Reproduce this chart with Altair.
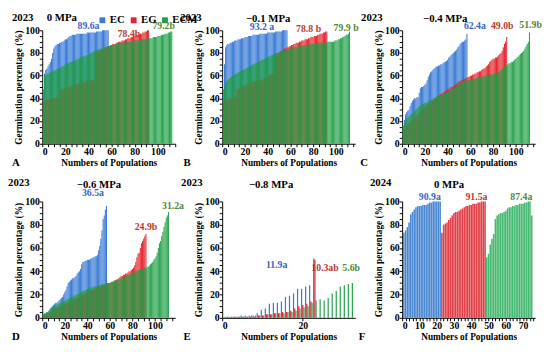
import altair as alt
import pandas as pd

FONT = "Liberation Serif"
GROUPS = ["EC", "EG", "ECM"]

# ---------------- Panel A: 2023, 0 MPa ----------------
A_EC = [48, 62, 65, 66, 68, 70, 72, 75, 80, 84,
        86, 87, 88, 88, 89, 89, 90, 90, 91, 92,
        92, 93, 94, 95, 95, 96, 96, 96, 96, 97,
        97, 97, 97, 97, 97, 97, 97, 97, 98, 98,
        98, 98, 98, 98, 98, 98, 99, 99, 99, 99,
        99, 100, 100, 100, 100, 100, 100]
A_EG = [37, 38, 38, 39, 39, 39, 40, 40, 40, 40, 40, 41, 41, 41, 41,
        47, 48, 48, 49, 49, 50, 50, 50, 51, 51, 51, 52, 52, 52, 52,
        53, 53, 53, 54, 54, 54, 54, 55, 55, 55, 55, 56, 56, 56, 56,
        80, 81, 81, 82, 82, 83, 83, 84, 84, 85,
        85, 86, 86, 87, 87, 88, 88, 88, 89, 89, 90, 90, 90, 91, 91,
        91, 92, 92, 93, 93, 93, 94, 94, 95, 95, 95, 96, 96, 96, 97,
        97, 98, 98, 99, 99, 100, 100]
A_ECM = [36, 60, 61, 61, 62, 62, 63, 63, 64, 64,
         65, 65, 66, 66, 67, 67, 68, 68, 69, 70,
         70, 71, 71, 72, 72, 73, 73, 73, 74, 74,
         75, 75, 76, 76, 77, 77, 77, 78, 78, 78,
         79, 80, 80, 81, 81, 82, 82, 83, 83, 84,
         84, 84, 85, 85, 85, 86, 86, 86, 87, 87,
         87, 87, 88, 88, 88, 88, 89, 89, 89, 89,
         89, 89, 90, 90, 90, 90, 90, 90, 91, 91,
         91, 91, 91, 91, 91, 92, 92, 92, 92, 92,
         92, 93, 93, 93, 93, 94, 94, 94, 94, 95,
         95, 95, 96, 96, 96, 97, 97, 97, 98, 98, 99, 99]

# ---------------- Panel B: 2023, -0.1 MPa ----------------
B_EC = [48, 70, 85, 87, 88, 88, 89, 89, 90, 90,
        91, 91, 91, 92, 92, 92, 93, 93, 93, 94,
        94, 94, 95, 95, 95, 95, 96, 96, 96, 96,
        96, 96, 97, 97, 97, 97, 97, 97, 97, 98,
        98, 98, 98, 98, 98, 98, 99, 99, 99, 99,
        99, 99, 100, 100, 100, 100, 100]
B_EG = [37, 38, 38, 39, 39, 40, 40, 40, 41, 41, 41, 41,
        48, 48, 49, 49, 50, 50, 51, 51, 52, 52, 53, 53, 54,
        54, 54, 55, 55, 55, 55, 56, 56, 56, 56, 57, 57, 57, 58, 58,
        60, 61, 61, 62, 62, 63, 63,
        79, 80, 80, 81, 82, 82, 83, 84, 84, 85, 85, 86, 86,
        87, 87, 88, 88, 89, 89, 89, 90, 90, 91, 91, 91, 92, 92, 92, 93, 93, 94, 94, 94,
        95, 95, 95, 96, 96, 97, 97, 97, 98, 98, 99, 99]
B_ECM = [38, 50, 53, 55, 56, 57, 58, 59, 60, 61,
         61, 62, 62, 63, 63, 64, 64, 65, 65, 66,
         66, 67, 67, 68, 68, 69, 70, 70, 71, 71,
         72, 72, 73, 73, 74, 74, 75, 75, 76, 76,
         77, 77, 78, 78, 79, 79, 80, 80, 80, 81,
         81, 81, 82, 82, 82, 83, 83, 83, 84, 84,
         84, 84, 85, 85, 85, 85, 86, 86, 86, 86,
         86, 87, 87, 87, 87, 87, 88, 88, 88, 88,
         88, 88, 88, 89, 89, 89, 89, 89, 89, 89,
         89, 89, 90, 90, 90, 90, 90, 90, 91, 91,
         91, 92, 92, 93, 93, 94, 94, 95, 96, 96, 97, 99]

# ---------------- Panel C: 2023, -0.4 MPa ----------------
C_EC = [16, 21, 26, 28, 29, 30, 33, 36, 38, 39,
        40, 40, 41, 41, 45, 49, 50, 50, 51, 52,
        53, 56, 59, 61, 63, 64, 65, 66, 67, 68,
        68, 69, 69, 70, 70, 71, 72, 72, 73, 74,
        76, 77, 78, 79, 80, 81, 82, 83, 85, 86,
        88, 89, 90, 90, 91, 92, 97]
C_EG = [10, 12, 14, 16, 17, 18, 19, 20, 21, 22,
        23, 24, 25, 26, 27, 28, 29, 30, 31, 32,
        33, 34, 35, 36, 36, 37, 38, 39, 40, 41,
        42, 42, 43, 44, 44, 45, 46, 46, 47, 48,
        48, 49, 50, 50, 51, 52, 52, 53, 54, 55,
        55, 56, 56, 57, 57, 58, 58, 59, 59, 60,
        60, 61, 61, 62, 62, 63, 63, 64, 64, 65,
        66, 66, 67, 68, 69, 70, 72, 73, 74, 75,
        75, 76, 76, 77, 78, 79, 80, 82, 85, 88,
        90, 94]
C_ECM = [15, 18, 20, 22, 23, 24, 25, 26, 27, 28,
         29, 30, 31, 32, 33, 33, 34, 35, 35, 36,
         36, 37, 37, 38, 38, 39, 39, 40, 40, 41,
         41, 42, 42, 43, 43, 44, 44, 45, 45, 46,
         46, 47, 47, 48, 48, 49, 50, 51, 52, 53,
         53, 54, 54, 55, 55, 55, 56, 56, 56, 56,
         57, 57, 57, 57, 58, 58, 58, 58, 59, 59,
         59, 59, 60, 60, 60, 60, 61, 61, 61, 61,
         62, 62, 62, 63, 63, 64, 65, 66, 67, 68,
         69, 69, 70, 71, 71, 72, 72, 73, 74, 75,
         76, 77, 78, 79, 80, 81, 82, 84, 86, 88, 90, 98]

# ---------------- Panel D: 2023, -0.6 MPa ----------------
D_EC = [2, 3, 3, 4, 5, 6, 8, 9, 10, 11,
        12, 13, 13, 14, 15, 16, 17, 18, 20, 22,
        24, 27, 30, 31, 32, 33, 34, 34, 35, 36,
        38, 39, 40, 42, 46, 48, 48, 49, 49, 50,
        50, 50, 51, 51, 52, 52, 53, 53, 54, 58,
        62, 68, 75, 85, 88, 93, 96]
D_EG = [1, 2, 2, 3, 3, 4, 5, 5, 6, 7,
        7, 8, 8, 9, 9, 10, 10, 11, 11, 12,
        12, 13, 13, 14, 14, 15, 15, 16, 16, 17,
        17, 18, 18, 19, 19, 20, 20, 21, 21, 22,
        22, 23, 23, 24, 24, 25, 25, 26, 26, 27,
        27, 27, 28, 28, 28, 29, 29, 29, 30, 30,
        30, 31, 31, 32, 32, 33, 33, 34, 35, 36,
        36, 37, 37, 38, 38, 39, 40, 40, 41, 42,
        43, 45, 48, 52, 55, 56, 60, 64, 66, 68,
        70, 72]
D_ECM = [3, 4, 4, 5, 5, 6, 7, 8, 9, 10,
         10, 11, 11, 12, 12, 13, 13, 14, 14, 15,
         15, 16, 16, 17, 17, 18, 18, 19, 19, 20,
         20, 21, 21, 22, 22, 23, 23, 24, 24, 25,
         25, 25, 26, 26, 26, 27, 27, 27, 28, 28,
         28, 28, 29, 29, 29, 29, 30, 30, 30, 30,
         31, 31, 31, 32, 32, 32, 33, 33, 33, 34,
         34, 35, 35, 36, 36, 37, 37, 37, 38, 38,
         39, 39, 40, 40, 41, 41, 42, 42, 42, 43,
         43, 43, 44, 44, 45, 46, 47, 48, 50, 51,
         53, 56, 60, 64, 66, 70, 74, 78, 82, 86, 88, 91]

# ---------------- Panel E: 2023, -0.8 MPa ----------------
E_EC = [1, 1, 1, 1, 2, 2, 2, 2, 4, 7, 8, 12, 13, 13, 14, 18, 19, 21, 25, 25, 27, 28, 51]
E_EG = [0.5, 0.5, 1, 1, 1, 1, 1, 1, 2, 2, 3, 3, 4, 4, 5, 5, 6, 8, 10, 11, 12, 14, 50]
E_ECM = [1, 1, 1, 1, 1, 1, 2, 2, 2, 2, 3, 3, 4, 4, 4, 5, 5, 6, 8, 9, 10, 13, 15,
         16, 15, 17, 21, 23, 27, 28, 29, 30]

# ---------------- Panel F: 2024, 0 MPa ----------------
F_EC = [73, 75, 78, 82, 89, 91, 93, 95, 96, 96, 96, 97, 97, 97, 98, 99, 99,
        100, 100, 100, 100, 100]
F_EG = [73, 80, 81, 82, 84, 86, 88, 90, 91, 91, 92, 93, 94, 95, 96, 96, 97,
        97, 98, 98, 98, 99, 99, 100, 100, 100]
F_ECM = [52, 55, 63, 68, 72, 85, 88, 89, 90, 90, 91, 92, 94, 95, 95, 96, 96,
         97, 97, 98, 98, 98, 99, 99, 100, 100, 88]

COLORS_2023 = ["#3a7bd5", "#e3262e", "#1f9e45"]
COLORS_2024 = ["#4a88d2", "#e24048", "#3db56a"]
LABEL_COLORS = {"EC": "#3567cc", "EG": "#b83a2a", "ECM": "#4f8a3a"}

PANELS = [
    dict(letter="A", year="2023", mpa="0 MPa", data=(A_EC, A_EG, A_ECM), starts=(1, 1, 1),
         xmax=115, major=20, minor=5, colors=COLORS_2023,
         means=[("89.6a", "EC", 40, 104), ("78.4b", "EG", 75, 97), ("79.2b", "ECM", 105, 104)],
         yearpos=(-20, -13), mpapos=(20, -13), letterpos=(-27, 136), legend=True),
    dict(letter="B", year="2023", mpa="−0.1 MPa", data=(B_EC, B_EG, B_ECM), starts=(1, 1, 1),
         xmax=117, major=20, minor=5, colors=COLORS_2023,
         means=[("93.2 a", "EC", 35, 103), ("78.8 b", "EG", 76, 101), ("79.9 b", "ECM", 109, 102)],
         yearpos=(-32, -13), mpapos=(47, -11), letterpos=(-36, 136), legend=False),
    dict(letter="C", year="2023", mpa="−0.4 MPa", data=(C_EC, C_EG, C_ECM), starts=(1, 1, 1),
         xmax=117, major=20, minor=5, colors=COLORS_2023,
         means=[("62.4a", "EC", 64, 104), ("49.0b", "EG", 88, 104), ("51.9b", "ECM", 113, 105)],
         yearpos=(-31, -13), mpapos=(44, -11), letterpos=(-39, 136), legend=False),
    dict(letter="D", year="2023", mpa="−0.6 MPa", data=(D_EC, D_EG, D_ECM), starts=(1, 1, 1),
         xmax=118, major=20, minor=5, colors=COLORS_2023,
         means=[("36.5a", "EC", 45, 107), ("24.9b", "EG", 92, 78), ("31.2a", "ECM", 116, 96)],
         yearpos=(-24, -19), mpapos=(58, -17), letterpos=(-27, 139), legend=False),
    dict(letter="E", year="2023", mpa="−0.8 MPa", data=(E_EC, E_EG, E_ECM), starts=(1, 1, 1),
         xmax=33, major=20, minor=20, colors=COLORS_2023,
         means=[("11.9a", "EC", 13.5, 45), ("10.3ab", "EG", 25.5, 43), ("5.6b", "ECM", 32, 43)],
         yearpos=(-31, -19), mpapos=(50, -17), letterpos=(-36, 139), legend=False),
    dict(letter="F", year="2024", mpa="0 MPa", data=(F_EC, F_EG, F_ECM), starts=(1, 23, 49),
         xmax=77, major=10, minor=2, colors=COLORS_2024,
         means=[("90.9a", "EC", 16, 104), ("91.5a", "EG", 43, 104), ("87.4a", "ECM", 69, 104)],
         yearpos=(-22, -19), mpapos=(48, -17), letterpos=(-41, 139), legend=False),
]

OPACITY = {"EC": 1.0, "EG": 1.0, "ECM": 0.95}
PANEL_W = 136
ROW_H = [116, 119]


def tick_axis(step, major, vmax, title):
    return alt.Axis(
        values=list(range(0, vmax + 1, step)),
        labelExpr=f"datum.value % {major} == 0 ? datum.label : ''",
        title=title, format="d", labelOverlap=False,
    )


def make_panel(cfg, height):
    narrow = cfg["letter"] == "E"
    rows = []
    for g, vals, start in zip(GROUPS, cfg["data"], cfg["starts"]):
        off = {"EC": -0.3, "EG": 0.0, "ECM": 0.3}[g] if narrow else 0.0
        hw = 0.15 if narrow else 0.45
        for i, v in enumerate(vals):
            p = start + i
            rows.append({"grp": g, "pop": p, "val": v, "x0": p + off - hw, "x1": p + off + hw})
    df = pd.DataFrame(rows)
    base = alt.Chart(df)
    xs = alt.Scale(domain=[0, cfg["xmax"]], nice=False, zero=True)
    ys = alt.Scale(domain=[0, 100], nice=False)
    if cfg["legend"]:
        leg = alt.Legend(orient="none", legendX=56, legendY=-16, direction="horizontal",
                         title=None, symbolType="square", symbolSize=36, symbolStrokeWidth=0,
                         labelFont=FONT, labelFontWeight="bold", labelFontSize=11,
                         labelColor="black", columnPadding=3, labelOffset=2, padding=0,
                         symbolOpacity=1)
    else:
        leg = None
    color = alt.Color("grp:N", scale=alt.Scale(domain=GROUPS, range=cfg["colors"]), legend=leg)
    xaxis = tick_axis(cfg["minor"], cfg["major"], cfg["xmax"], "Numbers of Populations")
    yaxis = tick_axis(5, 20, 100, "Germination percentage (%)")
    layers = []
    for g in GROUPS:
        layers.append(
            base.transform_filter(alt.datum.grp == g)
            .mark_bar(opacity=OPACITY[g], strokeWidth=0)
            .encode(
                x=alt.X("x0:Q", scale=xs, axis=xaxis),
                x2="x1:Q",
                y=alt.Y("val:Q", scale=ys, axis=yaxis),
                y2=alt.datum(0),
                color=color,
            )
        )
    for txt, g, mx, my in cfg["means"]:
        ldf = pd.DataFrame({"t": [txt], "x": [mx], "y": [my]})
        layers.append(
            alt.Chart(ldf).mark_text(font=FONT, fontWeight="bold", fontSize=10,
                                     color=LABEL_COLORS[g], clip=False)
            .encode(text="t:N", x=alt.X("x:Q", scale=xs, axis=xaxis),
                    y=alt.Y("y:Q", scale=ys, axis=yaxis))
        )
    for txt, pos in [(cfg["year"], cfg["yearpos"]), (cfg["mpa"], cfg["mpapos"]),
                     (cfg["letter"], cfg["letterpos"])]:
        tdf = pd.DataFrame({"t": [txt]})
        layers.append(
            alt.Chart(tdf).mark_text(font=FONT, fontWeight="bold", fontSize=11, color="black")
            .encode(text="t:N", x=alt.value(pos[0]), y=alt.value(pos[1]))
        )
    return alt.layer(*layers).properties(width=PANEL_W, height=height)


panels = [make_panel(c, ROW_H[k // 3]) for k, c in enumerate(PANELS)]

chart = (
    alt.concat(*panels, columns=3, spacing={"row": 59, "column": 48}, bounds="flush")
    .resolve_scale(color="independent")
    .properties(padding=0)
    .configure_view(stroke=None)
    .configure_axis(
        labelFont=FONT, labelFontWeight="bold", labelFontSize=10, labelColor="black",
        titleFont=FONT, titleFontWeight="bold", titleFontSize=9.5, titleColor="black",
        domainColor="black", tickColor="black", grid=False, tickSize=3,
        labelPadding=0, titlePadding=1,
    )
)

chart.save("out.html", embed_options={"renderer": "svg", "actions": False})
